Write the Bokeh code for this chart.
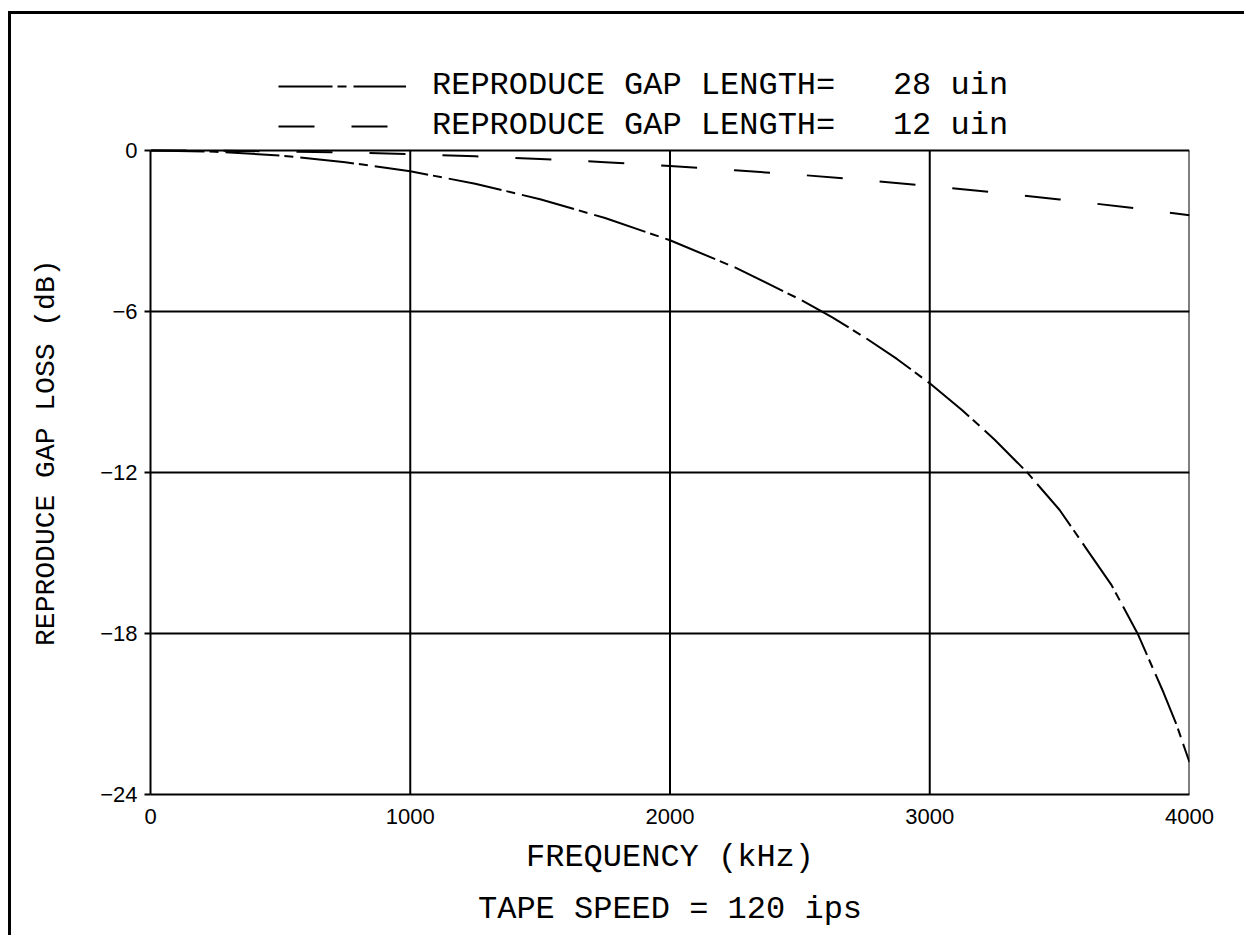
from bokeh.plotting import figure
from bokeh.models import Range1d, FixedTicker, Legend, LegendItem, Title
from bokeh.embed import file_html
from bokeh.resources import INLINE

# ---- data ----
freq_28 = [0, 250, 500, 750, 1000, 1250, 1500, 1750, 2000, 2250, 2500, 2625,
           2750, 2875, 3000, 3125, 3250, 3375, 3500, 3600, 3700, 3750, 3800,
           3850, 3900, 3950, 4000]
loss_28uin = [0.0, -0.05, -0.19, -0.44, -0.78, -1.24, -1.82, -2.52, -3.35, -4.36, -5.55, -6.22,
              -6.97, -7.78, -8.68, -9.68, -10.78, -12.0, -13.4, -14.8, -16.2, -17.1, -18.0,
              -19.1, -20.2, -21.4, -22.8]
freq_12 = [0, 250, 500, 750, 1000, 1250, 1500, 1750, 2000, 2250, 2500,
           2750, 3000, 3250, 3500, 3750, 4000]
loss_12uin = [0.0, -0.01, -0.04, -0.08, -0.14, -0.22, -0.32, -0.44, -0.58, -0.74, -0.91,
              -1.11, -1.33, -1.57, -1.83, -2.11, -2.42]
x_ticks = [0, 1000, 2000, 3000, 4000]
y_ticks = [-24, -18, -12, -6, 0]
legend_labels = ["REPRODUCE GAP LENGTH=\u00a0\u00a0\u00a028 uin",
                 "REPRODUCE GAP LENGTH=\u00a0\u00a0\u00a012 uin"]
x_title = "FREQUENCY (kHz)"
sub_title = "TAPE SPEED = 120 ips"
y_title = "REPRODUCE GAP LOSS (dB)\u00a0\u00a0\u00a0"

MONO = "Liberation Mono"
SANS = "Liberation Sans"
DASH_28 = "54 5 9 7"
DASH_12 = "36 37"

# plot box spans y_ticks[0]..y_ticks[-1] over 645 px; 90 px of head room hold the key
y_lo, y_hi = y_ticks[0], y_ticks[-1]
head = (y_hi - y_lo) * 90 / 645

p = figure(width=1236, height=924, x_range=Range1d(x_ticks[0], x_ticks[-1]),
           y_range=Range1d(y_lo, y_hi + head),
           output_backend="svg", toolbar_location=None,
           min_border_left=139, min_border_right=58, min_border_top=46, min_border_bottom=143)
p.styles = {"border-top": "3px solid black", "border-left": "3px solid black",
            "margin-left": "8px", "margin-top": "11px"}

p.background_fill_color = "white"
p.border_fill_color = "white"
p.outline_line_color = None

# horizontal grid (includes the top edge of the box at 0 dB)
p.ygrid.ticker = FixedTicker(ticks=y_ticks)
p.ygrid.grid_line_color = "black"
p.ygrid.grid_line_width = 2
p.ygrid.grid_line_alpha = 1
# vertical grid lines (and right edge), limited to the plot box
p.xgrid.visible = False
vx = x_ticks[1:]
p.segment(x0=vx, y0=[y_lo] * len(vx), x1=vx, y1=[y_hi] * len(vx),
          line_color="black", line_width=2)

p.xaxis.ticker = FixedTicker(ticks=x_ticks)
p.yaxis.ticker = FixedTicker(ticks=y_ticks)
p.yaxis.bounds = (y_lo, y_hi)
for ax in (p.xaxis, p.yaxis):
    ax.axis_line_color = "black"
    ax.axis_line_width = 2
    ax.minor_tick_line_color = None
    ax.major_tick_line_color = "black"
    ax.major_tick_line_width = 2
    ax.major_tick_in = 0
    ax.major_label_text_font = SANS
    ax.major_label_text_font_size = "22px"
    ax.major_label_text_color = "black"
    ax.axis_label_text_font = MONO
    ax.axis_label_text_font_style = "normal"
    ax.axis_label_text_color = "black"
p.xaxis.major_tick_out = 0
p.xaxis.major_label_standoff = 14
p.xaxis.axis_label = x_title
p.xaxis.axis_label_text_font_size = "32px"
p.xaxis.axis_label_standoff = 12
p.yaxis.major_tick_out = 6
p.yaxis.major_label_standoff = 7
p.yaxis.axis_label = y_title
p.yaxis.axis_label_text_font_size = "28px"
p.yaxis.axis_label_standoff = 35

r28 = p.line(freq_28, loss_28uin, line_color="black", line_width=2, line_dash=DASH_28)
r12 = p.line(freq_12, loss_12uin, line_color="black", line_width=2, line_dash=DASH_12)

legend = Legend(items=[LegendItem(label=legend_labels[0], renderers=[r28]),
                       LegendItem(label=legend_labels[1], renderers=[r12])],
                location=(128, 650), glyph_width=128, glyph_height=36, label_height=36,
                label_standoff=26, label_text_font=MONO, label_text_font_size="32px",
                label_text_color="black", spacing=3, padding=0, margin=0,
                border_line_color=None, background_fill_alpha=0)
p.add_layout(legend)

p.add_layout(Title(text=sub_title, align="center", text_font=MONO, text_font_size="32px",
                   text_font_style="normal", text_color="black", standoff=21), "below")

open("out.html", "w").write(file_html(p, INLINE))
